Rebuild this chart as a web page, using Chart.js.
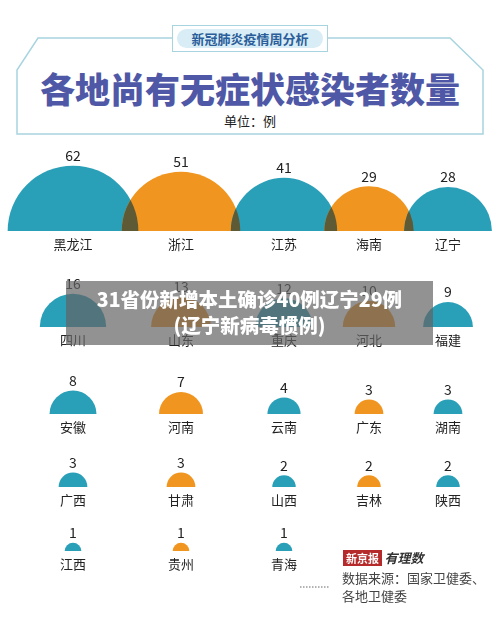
<!DOCTYPE html>
<html>
<head>
<meta charset="utf-8">
<script src="https://cdn.jsdelivr.net/npm/chart.js@4/dist/chart.umd.min.js"></script>
<style>
  body { margin: 0; background: #fff; font-family: "Noto Sans CJK SC", sans-serif; }
  #wrap { position: relative; width: 500px; height: 627px; overflow: hidden; }
  #chart { position: absolute; left: 0; top: 0; }
  .abs { position: absolute; }
  #title { left: 0; width: 500px; top: 62px; text-align: center; font-size: 35px; font-weight: 900; color: #4f58a6; }
  #unit { left: 0; width: 500px; top: 111px; text-align: center; font-size: 13px; color: #222; }
  #pill { left: 172px; top: 25px; width: 154px; height: 25px; border: 1px solid #a8d4e0; background: #fff; }
  #pill div { margin: 3px 4px; height: 19px; border-radius: 10px; background: #d8edf5; color: #2a5d9a; font-weight: bold; font-size: 13px; text-align: center; line-height: 19px; }
  #band { left: 66px; top: 281px; width: 367px; height: 64px; background: rgba(100,100,100,0.7); color: #fff; font-weight: 900; font-size: 19.5px; text-align: center; line-height: 26px; padding-top: 5px; box-sizing: border-box; }
  #logo { left: 343px; top: 548px; font-size: 11px; }
  #logo span.r { background: #b52a2a; color: #fff; font-weight: bold; padding: 0 3px; }
  #logo span.i { font-style: italic; font-weight: bold; color: #333; font-size: 13px; }
  #src { left: 342px; top: 569px; font-size: 13px; color: #444; line-height: 18px; }
</style>
</head>
<body>
<div id="wrap">
  <svg class="abs" width="500" height="627" style="left:0;top:0">
    <polyline points="172,38 38,38 17,70 17,134 483,134 483,70 450,38 328,38" fill="none" stroke="#a8d4e0" stroke-width="1.5"/>
    <line x1="300" y1="587" x2="330" y2="587" stroke="#666" stroke-dasharray="1.5,1.5"/>
  </svg>
  <div id="pill" class="abs"><div>新冠肺炎疫情周分析</div></div>
  <div id="title" class="abs">各地尚有无症状感染者数量</div>
  <div id="unit" class="abs">单位：例</div>
  <canvas id="chart" width="500" height="627"></canvas>
  <div id="band" class="abs">31省份新增本土确诊40例辽宁29例<br>(辽宁新病毒惯例)</div>
  <div id="logo" class="abs"><span class="r">新京报</span> <span class="i">有理数</span></div>
  <div id="src" class="abs">数据来源：国家卫健委、<br>各地卫健委</div>
</div>
<script>
// Provinces by row, reading left to right
const row1 = ['黑龙江', '浙江', '江苏', '海南', '辽宁'];
const row2 = ['四川', '山东', '重庆', '河北', '福建'];
const row3 = ['安徽', '河南', '云南', '广东', '湖南'];
const row4 = ['广西', '甘肃', '山西', '吉林', '陕西'];
const row5 = ['江西', '贵州', '青海'];

// Asymptomatic cases per province
const val1 = [62, 51, 41, 29, 28];
const val2 = [16, 13, 12, 10, 9];
const val3 = [8, 7, 4, 3, 3];
const val4 = [3, 3, 2, 2, 2];
const val5 = [1, 1, 1];

// Provinces drawn in orange (others teal)
const orangeSet = ['浙江', '海南', '山东', '河北', '河南', '广东', '甘肃', '吉林', '贵州'];

// Grid layout (scale units)
const colX = [73, 181, 284, 369, 448];
const rowY = [231, 327, 414, 487, 551];

const TEAL = '#2a9fb8';
const ORANGE = '#f0951f';
const OVERLAP = '#5e5a36';
const SIZE_K = 8.3;

const rows = [[row1, val1], [row2, val2], [row3, val3], [row4, val4], [row5, val5]];
const points = [];
rows.forEach(([names, vals], ri) => {
  names.forEach((name, ci) => {
    points.push({ x: colX[ci], y: rowY[ri], r: SIZE_K * Math.sqrt(vals[ci]), name: name, v: vals[ci], row: ri });
  });
});

function halfPath(ctx, px, py, r) {
  ctx.beginPath();
  ctx.moveTo(px - r, py);
  ctx.arc(px, py, r, Math.PI, 2 * Math.PI);
  ctx.closePath();
}

// Draw each point as a half-disc sitting on its baseline, with labels
const halfDiscs = {
  id: 'halfDiscs',
  afterDatasetsDraw(chart) {
    const ctx = chart.ctx;
    const xs = chart.scales.x, ys = chart.scales.y;
    const pix = points.map(p => ({ ...p, px: xs.getPixelForValue(p.x), py: ys.getPixelForValue(p.y) }));
    ctx.save();
    pix.forEach(p => {
      halfPath(ctx, p.px, p.py, p.r);
      ctx.fillStyle = orangeSet.includes(p.name) ? ORANGE : TEAL;
      ctx.fill();
    });
    // darker lens where neighbours overlap
    for (let i = 0; i + 1 < pix.length; i++) {
      const a = pix[i], b = pix[i + 1];
      if (a.row !== b.row || b.px - a.px >= a.r + b.r) continue;
      ctx.save();
      halfPath(ctx, a.px, a.py, a.r);
      ctx.clip();
      halfPath(ctx, b.px, b.py, b.r);
      ctx.fillStyle = OVERLAP;
      ctx.fill();
      ctx.restore();
    }
    ctx.restore();
    ctx.save();
    ctx.textAlign = 'center';
    ctx.fillStyle = '#222';
    pix.forEach(p => {
      ctx.font = '14px "Noto Sans CJK SC"';
      ctx.textBaseline = 'bottom';
      ctx.fillText(String(p.v), p.px, p.py - p.r - 3);
      ctx.font = '13px "Noto Sans CJK SC"';
      ctx.textBaseline = 'middle';
      ctx.fillText(p.name, p.px, p.py + 13);
    });
    ctx.restore();
  }
};

new Chart(document.getElementById('chart'), {
  type: 'scatter',
  data: {
    datasets: [{
      data: points,
      pointRadius: 0,
      pointHoverRadius: 0
    }]
  },
  options: {
    responsive: false,
    animation: false,
    layout: { padding: 0 },
    scales: {
      x: { type: 'linear', display: false, min: 0, max: 500 },
      y: { type: 'linear', display: false, min: 0, max: 627, reverse: true }
    },
    plugins: { legend: { display: false }, tooltip: { enabled: false } }
  },
  plugins: [halfDiscs]
});
</script>
</body>
</html>
